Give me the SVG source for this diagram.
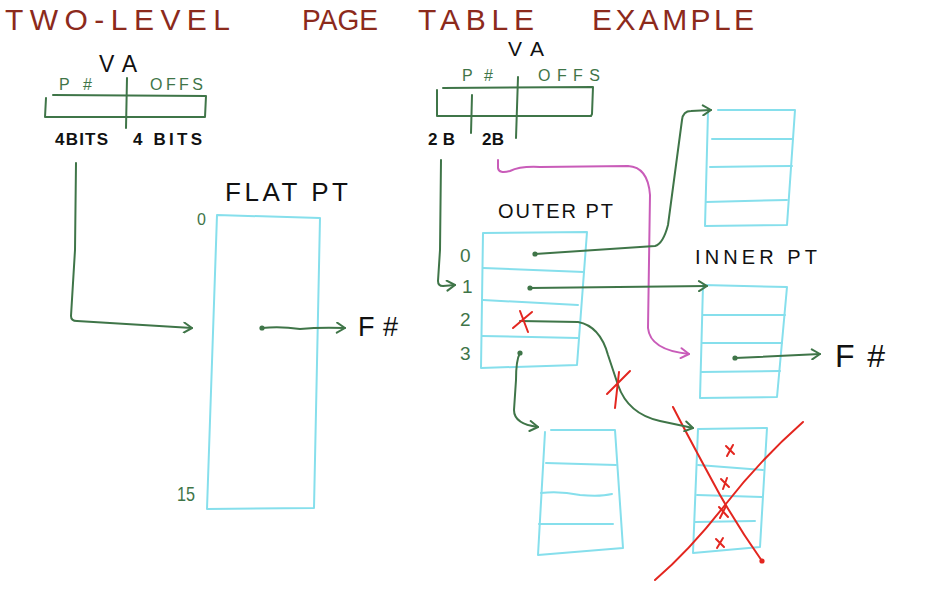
<svg xmlns="http://www.w3.org/2000/svg" width="925" height="590" viewBox="0 0 925 590">
<defs>
<style>
.title{font-family:"Liberation Sans",Arial,sans-serif;font-size:30px;fill:#8c2a1c}
.lbl{font-family:"Liberation Sans",Arial,sans-serif;fill:#111}
.g{font-family:"Liberation Sans",Arial,sans-serif;fill:#3f7548}
.gl{fill:none;stroke:#3f7548;stroke-width:2;stroke-linecap:round;stroke-linejoin:round}
.cy{fill:none;stroke:#86dfec;stroke-width:2;stroke-linecap:round;stroke-linejoin:round}
.rd{fill:none;stroke:#e3261f;stroke-width:2;stroke-linecap:round}
.mg{fill:none;stroke:#c95cb9;stroke-width:2;stroke-linecap:round;stroke-linejoin:round}
</style>
<marker id="ah" viewBox="0 0 12 12" refX="10" refY="6" markerWidth="12" markerHeight="12" markerUnits="userSpaceOnUse" orient="auto">
<path d="M2,1 L10,6 L2,11" fill="none" stroke="#3f7548" stroke-width="2" stroke-linecap="round" stroke-linejoin="round"/>
</marker>
<marker id="ahm" viewBox="0 0 12 12" refX="10" refY="6" markerWidth="12" markerHeight="12" markerUnits="userSpaceOnUse" orient="auto">
<path d="M2,1 L10,6 L2,11" fill="none" stroke="#c95cb9" stroke-width="2" stroke-linecap="round" stroke-linejoin="round"/>
</marker>
<marker id="dot" viewBox="0 0 6 6" refX="3" refY="3" markerWidth="6" markerHeight="6" markerUnits="userSpaceOnUse">
<circle cx="3" cy="3" r="2.6" fill="#3f7548"/>
</marker>
<marker id="rdot" viewBox="0 0 6 6" refX="3" refY="3" markerWidth="6" markerHeight="6" markerUnits="userSpaceOnUse">
<circle cx="3" cy="3" r="2.6" fill="#e3261f"/>
</marker>
</defs>
<rect width="925" height="590" fill="#ffffff"/>

<g id="title">
<text class="title" x="5" y="30" textLength="225" lengthAdjust="spacing">TWO-LEVEL</text>
<text class="title" x="302" y="30" textLength="76" lengthAdjust="spacingAndGlyphs">PAGE</text>
<text class="title" x="418" y="30" textLength="116" lengthAdjust="spacing">TABLE</text>
<text class="title" x="592" y="30" textLength="162" lengthAdjust="spacing">EXAMPLE</text>
</g>

<g id="va-left">
<text class="lbl" x="99" y="72" font-size="23" textLength="38" lengthAdjust="spacing">VA</text>
<text class="g" x="59" y="90" font-size="16" textLength="33" lengthAdjust="spacing">P#</text>
<text class="g" x="150" y="90" font-size="16" textLength="53" lengthAdjust="spacing">OFFS</text>
<path class="gl" d="M53,95 L206,96 L205,117 L45,117 L46,98"/>
<path class="gl" d="M127,78 L126,128"/>
<text class="lbl" x="55" y="145" font-size="17" font-weight="bold" textLength="53" lengthAdjust="spacing">4BITS</text>
<text class="lbl" x="133" y="145" font-size="17" font-weight="bold" textLength="69" lengthAdjust="spacing">4 BITS</text>
</g>

<g id="flat-pt">
<text class="lbl" x="225" y="201" font-size="26" textLength="123" lengthAdjust="spacing">FLAT PT</text>
<path class="cy" d="M217,215 L320,218 L314,508 L207,509 Z"/>
<text class="g" x="197" y="225" font-size="16">0</text>
<text class="g" x="177" y="501" font-size="21" textLength="18" lengthAdjust="spacingAndGlyphs">15</text>
<text class="lbl" x="358" y="336" font-size="27" textLength="40" lengthAdjust="spacing">F#</text>
</g>

<g id="va-right">
<text class="lbl" x="508" y="56" font-size="21" textLength="36" lengthAdjust="spacing">VA</text>
<text class="g" x="462" y="81" font-size="16" textLength="31" lengthAdjust="spacing">P#</text>
<text class="g" x="538" y="81" font-size="16" textLength="62" lengthAdjust="spacing">OFFS</text>
<path class="gl" d="M443,88 L593,87 L592,114 L591,116 L437,116 L437,90"/>
<path class="gl" d="M472,95 L471,133"/>
<path class="gl" d="M518,77 L516,138"/>
<text class="lbl" x="428" y="145" font-size="17" font-weight="bold" textLength="27" lengthAdjust="spacing">2B</text>
<text class="lbl" x="482" y="145" font-size="17" font-weight="bold" textLength="22" lengthAdjust="spacing">2B</text>
</g>

<g id="outer-pt">
<text class="lbl" x="498" y="218" font-size="20" textLength="115" lengthAdjust="spacing">OUTER PT</text>
<path class="cy" d="M483,233 L587,232 L577,365 L481,368 Z"/>
<path class="cy" d="M483,268 L584,272 M483,300 L578,305 M482,336 L578,338"/>
<text class="g" x="460" y="262" font-size="19">0</text>
<text class="g" x="462" y="293" font-size="19">1</text>
<text class="g" x="460" y="326" font-size="19">2</text>
<text class="g" x="460" y="360" font-size="19">3</text>
</g>

<g id="inner-pt-top">
<path class="cy" d="M718,110 L795,110 L787,225 L705,226 L708,112"/>
<path class="cy" d="M712,139 L793,139 M710,167 L792,166 M706,202 L787,200"/>
</g>

<g id="inner-pt">
<text class="lbl" x="695" y="264" font-size="20" textLength="122" lengthAdjust="spacing">INNER PT</text>
<path class="cy" d="M703,285 L787,287 L777,397 L700,398 Z"/>
<path class="cy" d="M703,315 L785,315 M702,343 L782,343 M701,372 L780,371"/>
<text class="lbl" x="835" y="367" font-size="32" textLength="50" lengthAdjust="spacing">F#</text>
</g>

<g id="inner-pt-bottom-left">
<path class="cy" d="M551,430 L615,430 L623,548 L538,555 L545,432"/>
<path class="cy" d="M546,463 L616,465 M541,493 Q560,491 580,495 Q600,497 612,494 M539,524 L613,524"/>
</g>

<g id="inner-pt-crossed">
<path class="cy" d="M698,429 L767,428 L760,547 L693,553 Z"/>
<path class="cy" d="M698,465 L763,470 M697,495 L762,497 M695,522 L755,521"/>
<path class="rd" d="M726,446 L734,454 M733,445 L727,456"/>
<path class="rd" d="M721,479 L729,487 M727,478 L723,489"/>
<path class="rd" d="M719,507 L728,517 M726,506 L720,518"/>
<path class="rd" d="M716,539 L724,547 M723,538 L717,548"/>
<path class="rd" d="M673,407 Q690,440 720,495 Q740,530 762,561" marker-end="url(#rdot)"/>
<path class="rd" d="M803,422 Q760,460 725,505 Q690,550 655,580"/>
</g>

<g id="connectors">
<path class="gl" d="M76,163 L75,250 L71,316 Q71,321 77,321 L192,328" marker-end="url(#ah)"/>
<path class="gl" d="M262,328 Q280,326 300,329 Q320,327 345,328" marker-start="url(#dot)" marker-end="url(#ah)"/>
<path class="gl" d="M441,160 L440,250 L438,281 Q438,286 443,286 L455,285" marker-end="url(#ah)"/>
<path class="mg" d="M498,160 L498,168 Q499,174 510,171 Q520,166 540,167 L628,166 Q648,167 650,195 L648,328 Q650,350 689,354" marker-end="url(#ahm)"/>
<path class="gl" d="M535,254 L655,246 Q663,244 668,225 L682,120 Q683,111 691,111 L711,110" marker-start="url(#dot)" marker-end="url(#ah)"/>
<path class="gl" d="M530,288 L707,286" marker-start="url(#dot)" marker-end="url(#ah)"/>
<path class="gl" d="M735,358 L820,354" marker-start="url(#dot)" marker-end="url(#ah)"/>
<path class="gl" d="M520,321 L578,322 Q600,326 608,355 L618,385 Q628,414 660,421 L693,428" marker-end="url(#ah)"/>
<path class="gl" d="M520,353 Q516,360 516,380 L514,410 Q514,424 538,427" marker-start="url(#dot)" marker-end="url(#ah)"/>
<path class="rd" d="M520,311 L528,332 M532,312 L513,328"/>
<path class="rd" d="M607,394 L630,371 M615,408 L619,372"/>
</g>
</svg>
